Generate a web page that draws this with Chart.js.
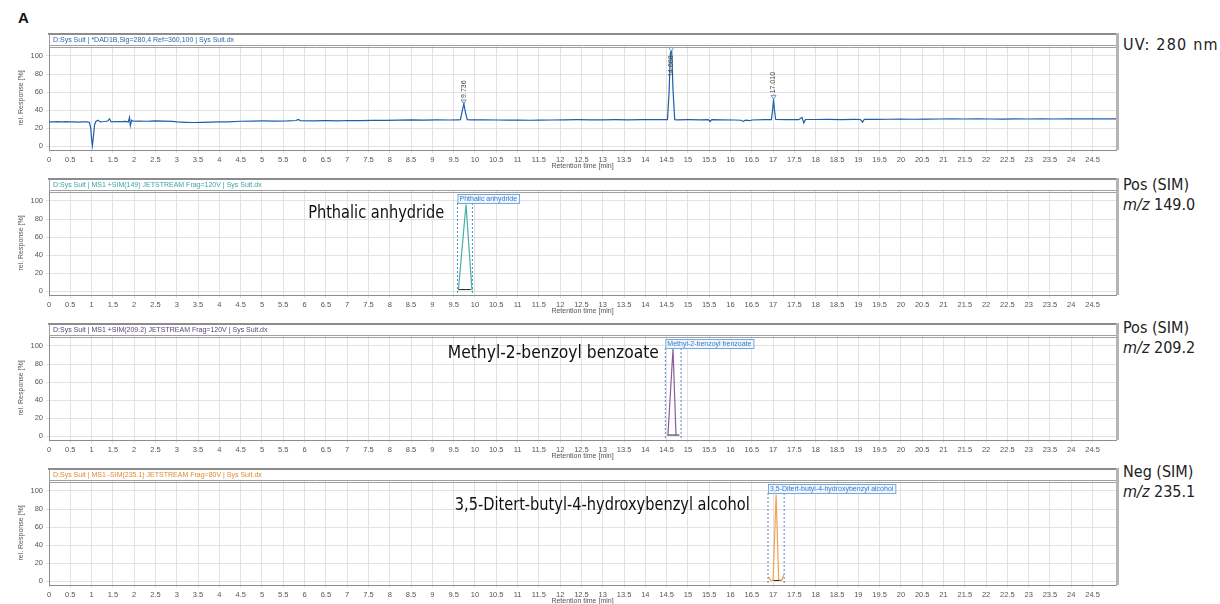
<!DOCTYPE html>
<html lang="en">
<head>
<meta charset="UTF-8">
<title>System suitability chromatograms</title>
<script src="https://cdn.jsdelivr.net/npm/chart.js"></script>
<style>
  body { margin: 0; background: #fff; width: 1220px; height: 604px; overflow: hidden; position: relative;
         font-family: Arial, "Liberation Sans", sans-serif; }
  canvas { position: absolute; left: 0; }
  .panel-tag { position: absolute; left: 18px; top: 9px; font-weight: bold; font-size: 15px; color: #111; }
  .side { position: absolute; left: 1123px; font-family: "Liberation Sans Narrow", "DejaVu Sans Condensed", Arial, sans-serif;
          font-size: 16px; line-height: 20px; color: #222; white-space: nowrap; }
  .name { position: absolute; font-family: "Liberation Sans Narrow", "DejaVu Sans Condensed", Arial, sans-serif;
          font-size: 18px; color: #111; white-space: nowrap; text-align: right;
          transform: scaleX(0.9); transform-origin: right center; }
</style>
</head>
<body>

<div class="panel-tag">A</div>

<canvas id="uvChart" width="1120" height="137" style="top:33px"></canvas>
<canvas id="ms149Chart" width="1120" height="137" style="top:178px"></canvas>
<canvas id="ms209Chart" width="1120" height="137" style="top:323px"></canvas>
<canvas id="ms235Chart" width="1120" height="137" style="top:468px"></canvas>

<div class="side" style="top:35px; letter-spacing:1.2px">UV: 280 nm</div>
<div class="side" style="top:175px">Pos (SIM)<br><i>m/z</i> 149.0</div>
<div class="side" style="top:318px">Pos (SIM)<br><i>m/z</i> 209.2</div>
<div class="side" style="top:462px">Neg (SIM)<br><i>m/z</i> 235.1</div>

<div class="name" style="right:776px; top:201px">Phthalic anhydride</div>
<div class="name" style="right:561px; top:341px; transform:scaleX(0.96)">Methyl-2-benzoyl benzoate</div>
<div class="name" style="right:470px; top:493px">3,5-Ditert-butyl-4-hydroxybenzyl alcohol</div>

<script>
// ---- data ----
const xTicks = [0, 0.5, 1, 1.5, 2, 2.5, 3, 3.5, 4, 4.5, 5, 5.5, 6, 6.5, 7, 7.5, 8, 8.5, 9, 9.5,
                10, 10.5, 11, 11.5, 12, 12.5, 13, 13.5, 14, 14.5, 15, 15.5, 16, 16.5, 17, 17.5,
                18, 18.5, 19, 19.5, 20, 20.5, 21, 21.5, 22, 22.5, 23, 23.5, 24, 24.5];
const yTicks = [0, 20, 40, 60, 80, 100];

// UV 280 nm trace
const uvTime = [0, 0.1, 0.2, 0.3, 0.4, 0.5, 0.6, 0.7, 0.8, 0.9, 0.95, 0.98, 1.0, 1.02, 1.04, 1.07, 1.1,
  1.15, 1.2, 1.3, 1.38, 1.42, 1.46, 1.55, 1.7, 1.8, 1.86, 1.89, 1.91, 1.94, 1.98, 2.1, 2.3, 2.5, 2.7,
  2.9, 3.0, 3.2, 3.4, 3.6, 3.8, 4.0, 4.2, 4.5, 4.8, 5.0, 5.3, 5.6, 5.8, 5.85, 5.9, 6.2, 6.5, 6.8, 7.0,
  7.3, 7.6, 7.9, 8.2, 8.5, 8.8, 9.1, 9.4, 9.6, 9.66, 9.7, 9.74, 9.78, 9.82, 9.9, 10.2, 10.5, 10.8, 11.0,
  11.3, 11.5, 11.8, 12.1, 12.4, 12.7, 13.0, 13.3, 13.6, 13.9, 14.2, 14.45, 14.52, 14.56, 14.59, 14.62,
  14.65, 14.69, 14.75, 15.0, 15.3, 15.48, 15.52, 15.56, 15.8, 16.1, 16.25, 16.3, 16.35, 16.45, 16.5,
  16.8, 16.96, 16.99, 17.01, 17.03, 17.06, 17.3, 17.6, 17.68, 17.72, 17.76, 18.0, 18.3, 18.6, 18.9,
  19.05, 19.1, 19.14, 19.4, 19.7, 20.0, 20.3, 20.6, 20.9, 21.2, 21.5, 21.8, 22.1, 22.4, 22.7, 23.0,
  23.3, 23.6, 23.9, 24.2, 24.5, 24.8, 25.05];
const uvResp = [27.2, 27.0, 27.4, 27.1, 27.3, 27.0, 27.2, 26.9, 27.1, 27.0, 26.5, 20, 8, 1, 10, 24, 27.5,
  29, 27, 27.5, 28, 30.5, 27, 27.5, 27.4, 27.6, 27, 32, 23, 29, 27.8, 28, 27.8, 28.1, 27.9,
  27.6, 27.0, 26.6, 26.4, 26.5, 26.8, 27.2, 27.0, 27.8, 28.0, 28.1, 28.0, 28.2, 28.6, 29.8, 28.5, 28.2, 28.4, 28.3, 28.6,
  28.5, 28.8, 28.7, 29.0, 29.3, 29.1, 29.4, 29.2, 29.4, 29.5, 39, 47, 37, 29.6, 29.4, 29.3, 29.2, 29.1, 29.0,
  28.9, 29.1, 29.2, 29.4, 29.5, 29.4, 29.3, 29.5, 29.4, 29.6, 29.5, 29.5, 29.6, 62, 104, 105,
  62, 29.6, 29.4, 29.5, 29.4, 29.6, 27.5, 29.6, 29.4, 29.2, 28.9, 27.6, 29.0, 28.4, 29.2,
  29.5, 29.6, 41, 52, 41, 29.7, 29.6, 29.5, 32, 26, 29.7, 29.7, 29.8, 29.6, 29.9,
  29.7, 26.8, 30.0, 29.9, 30.0, 30.1, 30.0, 30.2, 30.3, 30.4, 30.3, 30.4, 30.3, 30.2, 30.4, 30.3,
  30.4, 30.3, 30.5, 30.4, 30.5, 30.4, 30.5];
const uvPeakTimes = [9.736, 14.608, 17.010];
const uvPeakHeights = [47, 105, 52];

// SIM traces (only the extracted window is recorded)
const ms149Time = [9.61, 9.79, 9.93];
const ms149Resp = [1, 96, 1];
const ms209Time = [14.53, 14.65, 14.72];
const ms209Resp = [1, 97, 1];
const ms235Time = [16.89, 16.95, 17.0, 17.07, 17.13, 17.2, 17.25];
const ms235Resp = [5, 1, 1, 96, 2, 1, 7];

// integration windows and baselines
const compounds = ["Phthalic anhydride", "Methyl-2-benzoyl benzoate", "3,5-Ditert-butyl-4-hydroxybenzyl alcohol"];
const windowStart = [9.59, 14.47, 16.88];
const windowEnd = [9.94, 14.84, 17.26];
const baseStart = [9.62, 14.52, 16.95];
const baseEnd = [9.9, 14.8, 17.2];
const baseLevel = [2, 1.5, 1];

const headers = [
  "D:Sys Suit | *DAD1B,Sig=280,4 Ref=360,100 | Sys Suit.dx",
  "D:Sys Suit | MS1 +SIM(149) JETSTREAM Frag=120V | Sys Suit.dx",
  "D:Sys Suit | MS1 +SIM(209.2) JETSTREAM Frag=120V | Sys Suit.dx",
  "D:Sys Suit | MS1 -SIM(235.1) JETSTREAM Frag=80V | Sys Suit.dx"
];
const headerColors = ["#2a66ad", "#3aa59b", "#5b3f7c", "#e0892e"];
const traceColors = ["#1f5ea8", "#45b0a6", "#8a5c9e", "#f0a24e"];

// ---- helpers ----
const toXY = (xs, ys) => xs.map((x, i) => ({ x: x, y: ys[i] }));

// header strip, frame and annotations
const decorPlugin = {
  id: 'decor',
  afterDatasetsDraw(chart, args, opts) {
    const ctx = chart.ctx;
    const a = chart.chartArea;
    const xs = chart.scales.x, ys = chart.scales.y;
    ctx.save();

    // UV peak labels
    if (opts.peaks) {
      ctx.font = '7px Arial';
      ctx.fillStyle = '#444';
      opts.peaks.forEach(p => {
        const px = xs.getPixelForValue(p.t);
        const py = ys.getPixelForValue(p.h);
        ctx.strokeStyle = '#4a7fc0';
        ctx.lineWidth = 0.8;
        ctx.beginPath();
        ctx.moveTo(px - 2.5, py - 4);
        ctx.lineTo(px + 2.5, py - 4);
        ctx.lineTo(px, py);
        ctx.closePath();
        ctx.stroke();
        const label = p.t.toFixed(3);
        const w = ctx.measureText(label).width;
        let start = py - 6;
        if (start - w < a.top + 2) start = py + 4 + w;
        ctx.save();
        ctx.translate(px + 2.5, start);
        ctx.rotate(-Math.PI / 2);
        ctx.textAlign = 'left';
        ctx.textBaseline = 'middle';
        ctx.fillText(label, 0, -2.5);
        ctx.restore();
      });
    }

    // SIM integration window
    if (opts.win) {
      const x0 = xs.getPixelForValue(opts.win.start);
      const x1 = xs.getPixelForValue(opts.win.end);
      const y0 = a.top + 3;
      const yb = ys.getPixelForValue(0) + 2;
      ctx.font = '7px Arial';
      const w = ctx.measureText(opts.win.name).width + 4;
      ctx.strokeStyle = '#3c7cc4';
      ctx.lineWidth = 0.9;
      ctx.setLineDash([2, 2]);
      ctx.beginPath();
      ctx.moveTo(x0, y0 + 9); ctx.lineTo(x0, yb);
      ctx.moveTo(x1, y0 + 9); ctx.lineTo(x1, yb);
      ctx.stroke();
      ctx.setLineDash([]);
      ctx.fillStyle = '#eef5fc';
      ctx.fillRect(x0, y0, w, 9);
      ctx.strokeStyle = '#6aa2dc';
      ctx.strokeRect(x0 + 0.5, y0 + 0.5, w, 9);
      ctx.fillStyle = '#3a7bc4';
      ctx.textBaseline = 'middle';
      ctx.fillText(opts.win.name, x0 + 2, y0 + 5);
    }
    ctx.restore();
  },
  afterDraw(chart, args, opts) {
    const ctx = chart.ctx;
    const a = chart.chartArea;
    ctx.save();
    // header strip
    const hTop = a.top - 12;
    ctx.fillStyle = '#fff';
    ctx.fillRect(a.left, hTop, a.right - a.left, 12);
    ctx.strokeStyle = '#8c8c8c';
    ctx.lineWidth = 2;
    ctx.beginPath();
    ctx.moveTo(a.left - 1, hTop); ctx.lineTo(a.right + 2, hTop);
    ctx.stroke();
    ctx.lineWidth = 1;
    ctx.strokeStyle = '#a0a0a0';
    ctx.beginPath();
    ctx.moveTo(a.left + 0.5, hTop); ctx.lineTo(a.left + 0.5, a.top);
    ctx.moveTo(a.left, a.top - 0.5); ctx.lineTo(a.right, a.top - 0.5);
    ctx.moveTo(a.left, a.top + 1.5); ctx.lineTo(a.right, a.top + 1.5);
    ctx.stroke();
    ctx.font = '7px Arial';
    ctx.fillStyle = opts.headerColor;
    ctx.textBaseline = 'middle';
    ctx.fillText(opts.header, a.left + 4, hTop + 6.5);
    // thick right edge
    ctx.fillStyle = '#b4b4b4';
    ctx.fillRect(a.right, hTop - 1, 3, a.bottom - hTop + 1);
    ctx.restore();
  }
};

function makePanel(canvasId, datasets, decor) {
  return new Chart(document.getElementById(canvasId).getContext('2d'), {
    type: 'line',
    data: { datasets: datasets },
    options: {
      responsive: false,
      animation: false,
      events: [],
      layout: { padding: { top: 13, right: 4, left: 0, bottom: 0 } },
      elements: { point: { radius: 0 }, line: { tension: 0 } },
      scales: {
        x: {
          type: 'linear',
          min: 0,
          max: 25.05,
          afterBuildTicks: s => { s.ticks = xTicks.map(v => ({ value: v })); },
          afterFit: s => { s.height = 20; },
          grid: { color: '#dadada', tickLength: 3, lineWidth: 0.8 },
          border: { color: '#8c8c8c' },
          ticks: { color: '#555', font: { size: 7.5 }, padding: 2, maxRotation: 0, autoSkip: false,
                   callback: v => String(v) },
          title: { display: true, text: 'Retention time [min]', color: '#555', font: { size: 7 }, padding: { top: 0, bottom: 0 } }
        },
        y: {
          min: -4,
          max: 111,
          afterBuildTicks: s => { s.ticks = yTicks.map(v => ({ value: v })); },
          afterFit: s => { s.width = 49; },
          grid: { color: '#dadada', tickLength: 3, lineWidth: 0.8 },
          border: { color: '#8c8c8c' },
          ticks: { color: '#555', font: { size: 7.5 }, padding: 3, callback: v => String(v) },
          title: { display: true, text: 'rel. Response [%]', color: '#555', font: { size: 7 }, padding: { top: 17, bottom: 0 } }
        }
      },
      plugins: {
        legend: { display: false },
        tooltip: { enabled: false },
        decor: decor
      }
    },
    plugins: [decorPlugin]
  });
}

function simPanel(canvasId, i, times, resp) {
  return makePanel(canvasId, [
    { data: toXY(times, resp), borderColor: traceColors[i + 1], borderWidth: 1.2 },
    { data: toXY([baseStart[i], baseEnd[i]], [baseLevel[i], baseLevel[i]]), borderColor: '#222', borderWidth: 1 }
  ], {
    header: headers[i + 1],
    headerColor: headerColors[i + 1],
    win: { start: windowStart[i], end: windowEnd[i], name: compounds[i] }
  });
}

makePanel('uvChart', [
  { data: toXY(uvTime, uvResp), borderColor: traceColors[0], borderWidth: 1.2 }
], {
  header: headers[0],
  headerColor: headerColors[0],
  peaks: uvPeakTimes.map((t, i) => ({ t: t, h: uvPeakHeights[i] }))
});
simPanel('ms149Chart', 0, ms149Time, ms149Resp);
simPanel('ms209Chart', 1, ms209Time, ms209Resp);
simPanel('ms235Chart', 2, ms235Time, ms235Resp);
</script>
</body>
</html>
